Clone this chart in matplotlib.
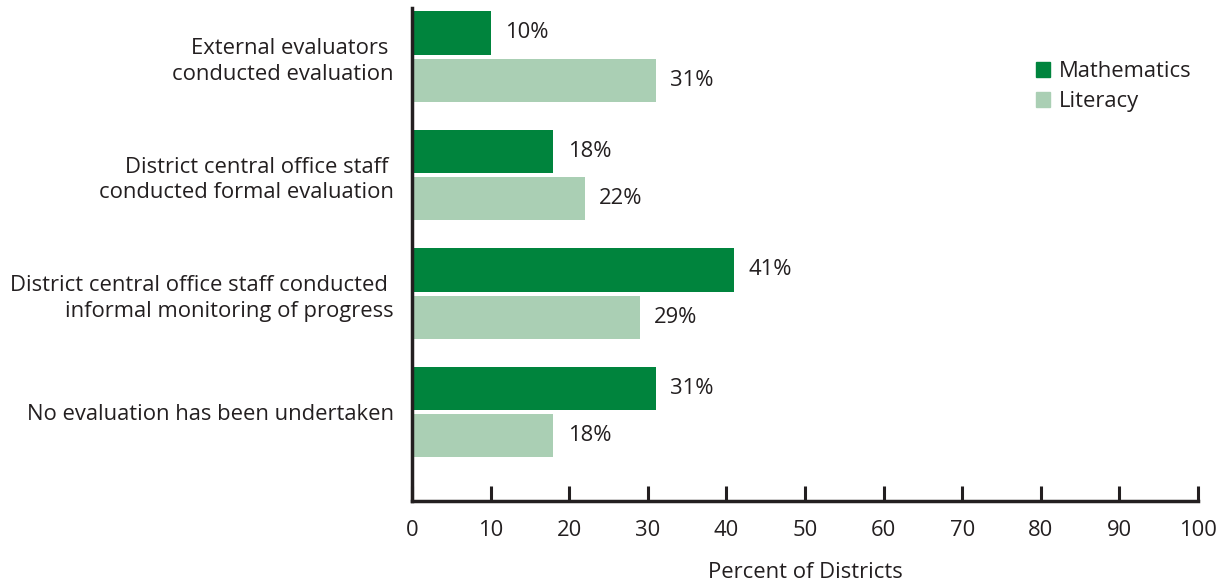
import numpy as np
import matplotlib.pyplot as plt
from matplotlib.patches import Patch

categories = [
    "External evaluators \nconducted evaluation",
    "District central office staff \nconducted formal evaluation",
    "District central office staff conducted \ninformal monitoring of progress",
    "No evaluation has been undertaken",
]
math_vals = [10, 18, 41, 31]
literacy_vals = [31, 22, 29, 18]
xticks = list(range(0, 101, 10))

dark = "#00843D"
light = "#AACFB4"
ink = "#231F20"

plt.rcParams["font.family"] = ["Open Sans", "DejaVu Sans"]
plt.rcParams["font.size"] = 15.8
plt.rcParams["text.color"] = ink

fig = plt.figure(figsize=(12.25, 5.86), dpi=100)
ax = fig.add_axes([412 / 1225, 1 - 501 / 586, (1198 - 412) / 1225, (501 - 8) / 586])

y = np.arange(len(categories))
h = 0.365
off = 0.2
ax.barh(y - off, math_vals, height=h, color=dark)
ax.barh(y + off, literacy_vals, height=h, color=light)

for yi, v in zip(y - off, math_vals):
    ax.text(v + 1.8, yi, f"{v}%", va="center", ha="left", color=ink)
for yi, v in zip(y + off, literacy_vals):
    ax.text(v + 1.8, yi, f"{v}%", va="center", ha="left", color=ink)

ax.set_xlim(0, 100)
ax.set_ylim(3.75, -0.41)
ax.set_xticks(xticks)
ax.set_yticks(y)
ax.set_yticklabels(categories, ha="right", color=ink, linespacing=1.3)
ax.tick_params(axis="y", length=0, pad=13)
ax.tick_params(axis="x", direction="in", length=11, width=2.2, color=ink, pad=14, labelcolor=ink)

for s in ["top", "right"]:
    ax.spines[s].set_visible(False)
for s in ["left", "bottom"]:
    ax.spines[s].set_linewidth(2.5)
    ax.spines[s].set_color(ink)

ax.set_xlabel("Percent of Districts", labelpad=15, color=ink)

handles = [Patch(color=dark, label="Mathematics"), Patch(color=light, label="Literacy")]
ax.legend(handles=handles, loc="upper right", bbox_to_anchor=(1.003, 0.91), frameon=False,
          handlelength=0.65, handleheight=0.65, handletextpad=0.4, labelspacing=0.4,
          borderaxespad=0.0)

fig.savefig("out.png", dpi=100)
